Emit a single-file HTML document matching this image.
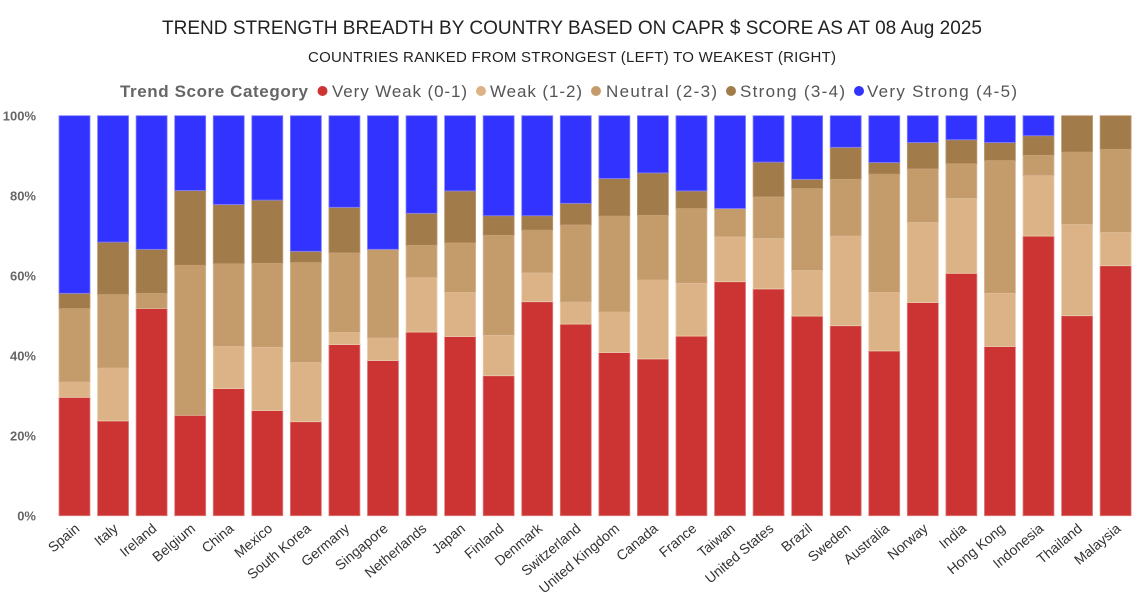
<!DOCTYPE html>
<html><head><meta charset="utf-8"><style>
body{margin:0;background:#fff;font-family:"Liberation Sans",sans-serif;}
svg{display:block}
</style></head><body>
<svg id="chart" width="1143" height="594" xmlns="http://www.w3.org/2000/svg">
<text x="572" y="34" text-anchor="middle" font-size="19" fill="#222" textLength="820">TREND STRENGTH BREADTH BY COUNTRY BASED ON CAPR $ SCORE AS AT 08 Aug 2025</text>
<text x="572" y="62" text-anchor="middle" font-size="15" fill="#222" textLength="528">COUNTRIES RANKED FROM STRONGEST (LEFT) TO WEAKEST (RIGHT)</text>
<g id="legend"></g>
<g id="yaxis"></g>
<g id="bars"></g>
<g id="xaxis"></g>
</svg>
<script>
const countries=["Spain","Italy","Ireland","Belgium","China","Mexico","South Korea","Germany","Singapore","Netherlands","Japan","Finland","Denmark","Switzerland","United Kingdom","Canada","France","Taiwan","United States","Brazil","Sweden","Australia","Norway","India","Hong Kong","Indonesia","Thailand","Malaysia"];
const veryWeak=[29.6,23.7,51.8,25.1,31.8,26.3,23.5,42.8,38.8,45.9,44.8,35.0,53.5,47.9,40.8,39.2,44.9,58.5,56.7,49.9,47.5,41.2,53.3,60.6,42.3,69.9,50.0,62.5];
const weak=[3.8,13.2,0,0,10.5,15.8,14.8,3.0,5.6,13.6,11.0,10.1,7.2,5.5,10.1,19.7,13.2,11.2,12.6,11.4,22.4,14.6,20.0,18.7,13.3,15.1,22.8,8.3];
const neutral=[18.4,18.4,3.8,37.5,20.7,21.0,25.0,19.9,22.2,8.1,12.4,25.0,10.7,19.3,24.0,16.2,18.7,7.1,10.4,20.5,14.2,29.6,13.4,8.7,33.2,5.1,18.1,20.8];
const strong=[3.8,13.1,11.0,18.7,14.8,15.8,2.8,11.4,0,8.0,13.0,4.9,3.6,5.4,9.4,10.6,4.4,0,8.7,2.3,8.0,2.9,6.6,6.0,4.5,4.9,9.1,8.4];
const veryStrong=[44.4,31.6,33.4,18.7,22.2,21.1,33.9,22.9,33.4,24.4,18.8,25.0,25.0,21.9,15.7,14.3,18.8,23.2,11.6,15.9,7.9,11.7,6.7,6.0,6.7,5.0,0,0];
const seriesNames=["Very Weak (0-1)","Weak (1-2)","Neutral (2-3)","Strong (3-4)","Very Strong (4-5)"];
const yTicks=[0,20,40,60,80,100];
</script>
<script>
const NS="http://www.w3.org/2000/svg";
const series=[veryWeak,weak,neutral,strong,veryStrong];
const colors=["#CC3333","#DBB386","#C49C6B","#A27B4A","#3333FF"];
const strokes=["#E08080","#EBCFAE","#DAB994","#C09A70","#8080FF"];
const X0=59,PITCH=38.56,BW=31,Y0=515.7,YH=400;
function xPos(i){return X0+PITCH*i;}
function yPos(p){return Y0-p/100*YH;}
function mk(tag,attrs,parent){const e=document.createElementNS(NS,tag);for(const k in attrs)e.setAttribute(k,attrs[k]);parent.appendChild(e);return e;}
const ya=document.getElementById('yaxis');
yTicks.forEach(t=>{const e=mk('text',{x:36,y:yPos(t)+5,'text-anchor':'end','font-size':13,'font-weight':'bold',fill:'#666'},ya);e.textContent=t+'%';

});
const bg=document.getElementById('bars');
countries.forEach((c,i)=>{let cum=0;
series.forEach((s,k)=>{const v=s[i];if(v<=0)return;const r=mk('rect',{x:xPos(i),y:yPos(cum+v),width:BW,height:v/100*YH,fill:colors[k],stroke:strokes[k],'stroke-width':0.8},bg);


cum+=v;});});
const xa=document.getElementById('xaxis');
countries.forEach((c,i)=>{const cx=xPos(i)+BW/2+6,cy=530;const t=mk('text',{x:cx,y:cy,'text-anchor':'end','font-size':14,fill:'#333',transform:`rotate(-40 ${cx} ${cy})`},xa);t.textContent=c;

});
const lg=document.getElementById('legend');
let lt=mk('text',{x:120,y:97,'font-size':17,'font-weight':'bold',fill:'#666',textLength:188},lg);lt.textContent='Trend Score Category';


const lc=[322.5,481,596,731,859];
const ltx=[332,490,606,740,867];
const ltw=[135,92,111,105,150];
seriesNames.forEach((n,k)=>{const g=mk('g',{},lg);


mk('circle',{cx:lc[k],cy:91,r:5,fill:colors[k]},g);const t=mk('text',{x:ltx[k],y:97,'font-size':17,fill:'#555',textLength:ltw[k]},g);t.textContent=n;});
</script>
</body></html>
